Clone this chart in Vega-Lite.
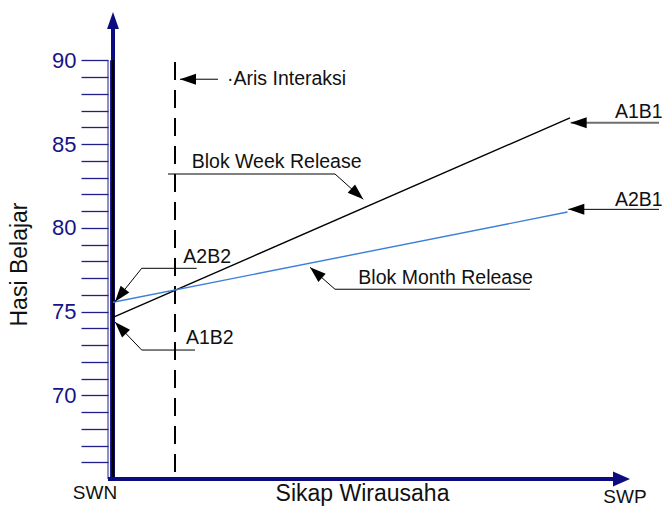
{
  "$schema": "https://vega.github.io/schema/vega-lite/v6.json",
  "width": 554,
  "height": 479,
  "autosize": {"type": "none"},
  "padding": {"left": 108, "top": 0, "right": 0, "bottom": 27},
  "background": "white",
  "config": {"view": {"stroke": null}, "font": "Liberation Sans"},
  "datasets": {
    "lines": [
      {"series": "A1B1", "x": 0, "y": 74.65},
      {"series": "A1B1", "x": 91.4, "y": 86.56},
      {"series": "A2B1", "x": 0, "y": 75.55},
      {"series": "A2B1", "x": 90.9, "y": 80.94}
    ],
    "annot": [
      {"ann": "Aris", "order": 1, "x": 21, "y": 88.87},
      {"ann": "Aris", "order": 2, "x": 13.4, "y": 88.87},
      {"ann": "Week", "order": 1, "x": 11, "y": 83.21},
      {"ann": "Week", "order": 2, "x": 44.4, "y": 83.21},
      {"ann": "Week", "order": 3, "x": 50.06, "y": 81.7},
      {"ann": "Month", "order": 1, "x": 83.4, "y": 76.33},
      {"ann": "Month", "order": 2, "x": 44.4, "y": 76.33},
      {"ann": "Month", "order": 3, "x": 39.4, "y": 77.64},
      {"ann": "A1B1", "order": 1, "x": 109.2, "y": 86.27},
      {"ann": "A1B1", "order": 2, "x": 91.54, "y": 86.27},
      {"ann": "A2B1", "order": 1, "x": 109.2, "y": 81.1},
      {"ann": "A2B1", "order": 2, "x": 91.06, "y": 81.1},
      {"ann": "A2B2", "order": 1, "x": 16.74, "y": 77.58},
      {"ann": "A2B2", "order": 2, "x": 5.74, "y": 77.58},
      {"ann": "A2B2", "order": 3, "x": 0.4, "y": 75.59},
      {"ann": "A1B2", "order": 1, "x": 16.4, "y": 72.7},
      {"ann": "A1B2", "order": 2, "x": 5.74, "y": 72.7},
      {"ann": "A1B2", "order": 3, "x": 0.4, "y": 74.37}
    ],
    "tips": [
      {"ann": "Aris", "x": 13.4, "y": 88.87},
      {"ann": "Week", "x": 50.06, "y": 81.7},
      {"ann": "Month", "x": 39.4, "y": 77.64},
      {"ann": "A1B1", "x": 91.54, "y": 86.27},
      {"ann": "A2B1", "x": 91.06, "y": 81.1},
      {"ann": "A2B2", "x": 0.4, "y": 75.59},
      {"ann": "A1B2", "x": 0.4, "y": 74.37}
    ],
    "labels": [
      {"role": "annotation", "text": "·Aris Interaksi", "x": 22.8, "y": 88.53},
      {"role": "annotation", "text": "Blok Week Release", "x": 15.74, "y": 83.55},
      {"role": "annotation", "text": "Blok Month Release", "x": 49.06, "y": 76.63},
      {"role": "annotation", "text": "A1B1", "x": 100.4, "y": 86.54},
      {"role": "annotation", "text": "A2B1", "x": 100.4, "y": 81.3},
      {"role": "annotation", "text": "A2B2", "x": 14.06, "y": 77.92},
      {"role": "annotation", "text": "A1B2", "x": 14.6, "y": 73.06},
      {"role": "end", "text": "SWN", "x": -3.6, "y": 63.81},
      {"role": "end", "text": "SWP", "x": 102.4, "y": 63.54},
      {"role": "title", "text": "Sikap Wirausaha", "x": 49.9, "y": 63.69}
    ]
  },
  "encoding": {
    "x": {"field": "x", "type": "quantitative", "scale": {"domain": [-1, 109.8], "nice": false, "zero": false}, "axis": null},
    "y": {
      "field": "y", "type": "quantitative",
      "scale": {"domain": [65, 93.6], "nice": false, "zero": false},
      "axis": {
        "values": [66, 67, 68, 69, 70, 71, 72, 73, 74, 75, 76, 77, 78, 79, 80, 81, 82, 83, 84, 85, 86, 87, 88, 89, 90],
        "labelExpr": "datum.value % 5 === 0 ? datum.label : ''",
        "domain": false,
        "grid": false,
        "tickColor": "#1f1f8c",
        "tickSize": 27,
        "tickWidth": 1.3,
        "labelColor": "#14148a",
        "labelFont": "Liberation Sans",
        "labelFontSize": 22,
        "labelPadding": 5,
        "title": "Hasi Belajar",
        "titleFont": "Liberation Sans",
        "titleFontSize": 23,
        "titleFontWeight": "normal",
        "titleColor": "#111111",
        "titleAngle": 270,
        "titleX": -81.3,
        "titleY": 264,
        "titleAlign": "center",
        "titleBaseline": "alphabetic"
      }
    }
  },
  "layer": [
    {
      "data": {"values": [{"x": -1, "y": 65, "y2": 90}, {"x": -0.5, "y": 65, "y2": 90}]},
      "mark": {"type": "rule", "color": "#1f1f8c", "strokeWidth": 1},
      "encoding": {"y2": {"field": "y2"}}
    },
    {
      "data": {"values": [{"x": 0, "y": 65, "y2": 91.87}]},
      "mark": {"type": "rule", "color": "#0c0c80", "strokeWidth": 4},
      "encoding": {"y2": {"field": "y2"}}
    },
    {
      "data": {"values": [{"x": 0, "y": 65, "y2": 90.02}]},
      "mark": {"type": "rule", "color": "#000000", "strokeWidth": 2.4},
      "encoding": {"y2": {"field": "y2"}}
    },
    {
      "data": {"values": [{"x": 0, "y": 92.88}]},
      "mark": {"type": "point", "shape": "M0,0L0.7,2L-0.7,2Z", "size": 289, "filled": true, "color": "#0c0c80", "opacity": 1, "angle": 0}
    },
    {
      "data": {"values": [{"x": -1, "x2": 100.2, "y": 65}]},
      "mark": {"type": "rule", "color": "#0c0c80", "strokeWidth": 4},
      "encoding": {"x2": {"field": "x2"}}
    },
    {
      "data": {"values": [{"x": 103.4, "y": 65}]},
      "mark": {"type": "point", "shape": "M0,0L0.88,2L-0.88,2Z", "size": 289, "filled": true, "color": "#0c0c80", "opacity": 1, "angle": 90}
    },
    {
      "data": {"values": [{"x": 12.4, "y": 89.9, "y2": 65}]},
      "mark": {"type": "rule", "color": "#000000", "strokeWidth": 2, "strokeDash": [18, 10]},
      "encoding": {"y2": {"field": "y2"}}
    },
    {
      "data": {"name": "lines"},
      "mark": {"type": "line", "strokeWidth": 1.4},
      "encoding": {
        "color": {"field": "series", "type": "nominal", "scale": {"domain": ["A1B1", "A2B1"], "range": ["#000000", "#3c7fd9"]}, "legend": null}
      }
    },
    {
      "data": {"name": "annot"},
      "transform": [{"filter": "datum.ann !== 'A1B1'"}],
      "mark": {"type": "line", "color": "#000000", "strokeWidth": 1},
      "encoding": {"detail": {"field": "ann"}, "order": {"field": "order", "type": "quantitative"}}
    },
    {
      "data": {"name": "annot"},
      "transform": [{"filter": "datum.ann === 'A1B1'"}],
      "mark": {"type": "line", "color": "#6e6e6e", "strokeWidth": 1.8},
      "encoding": {"detail": {"field": "ann"}, "order": {"field": "order", "type": "quantitative"}}
    },
    {
      "data": {"name": "tips"},
      "mark": {"type": "point", "shape": "M0,0L0.69,2L-0.69,2Z", "size": 256, "filled": true, "color": "#000000", "opacity": 1},
      "encoding": {
        "angle": {"field": "ann", "type": "nominal", "legend": null,
          "scale": {"type": "ordinal", "domain": ["Aris", "Week", "Month", "A1B1", "A2B1", "A2B2", "A1B2"], "range": [270, 131.8, 311.3, 270, 270, 218.6, 316.4]}}
      }
    },
    {
      "data": {"name": "labels"},
      "transform": [{"filter": "datum.role === 'annotation'"}],
      "mark": {"type": "text", "align": "left", "baseline": "alphabetic", "fontSize": 19.5, "font": "Liberation Sans", "color": "#111111"},
      "encoding": {"text": {"field": "text"}}
    },
    {
      "data": {"name": "labels"},
      "transform": [{"filter": "datum.role === 'end'"}],
      "mark": {"type": "text", "align": "center", "baseline": "alphabetic", "fontSize": 19, "font": "Liberation Sans", "color": "#111111"},
      "encoding": {"text": {"field": "text"}}
    },
    {
      "data": {"name": "labels"},
      "transform": [{"filter": "datum.role === 'title'"}],
      "mark": {"type": "text", "align": "center", "baseline": "alphabetic", "fontSize": 23, "font": "Liberation Sans", "color": "#111111"},
      "encoding": {"text": {"field": "text"}}
    }
  ]
}
